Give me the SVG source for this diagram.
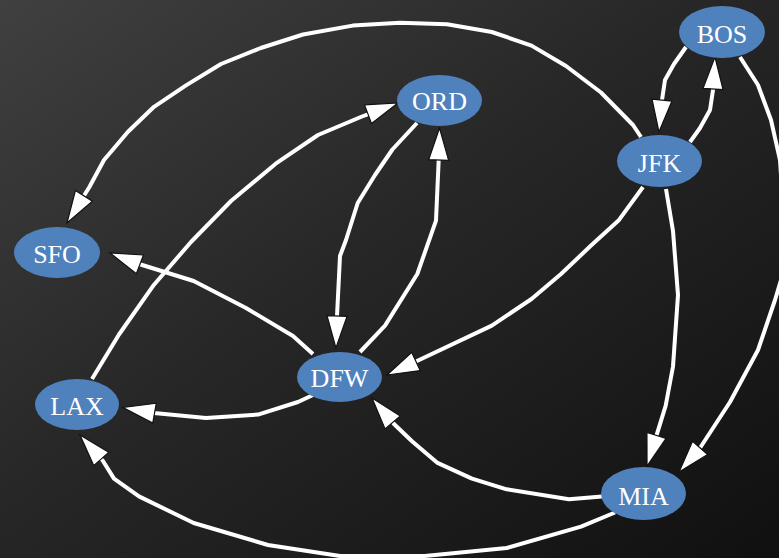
<svg xmlns="http://www.w3.org/2000/svg" width="779" height="558" viewBox="0 0 779 558">
  <defs>
    <linearGradient id="bg" x1="0" y1="0" x2="1" y2="1">
      <stop offset="0" stop-color="#404040"/>
      <stop offset="0.45" stop-color="#272727"/>
      <stop offset="1" stop-color="#101010"/>
    </linearGradient>
    <!-- tip sits 8px past the end of each path so the stroke stays under the head -->
    <marker id="arrow" markerUnits="userSpaceOnUse" markerWidth="36" markerHeight="24" refX="24" refY="10.5" orient="auto" overflow="visible">
      <path d="M0,0.5 L32,10.5 L0,20.5 Z" fill="#ffffff" stroke="#111111" stroke-width="1.2" stroke-linejoin="miter"/>
    </marker>
    <style>
      .edge { fill: none; stroke: #ffffff; stroke-width: 4; stroke-linejoin: round; marker-end: url(#arrow); }
      .node ellipse { fill: #4f81bd; }
      .node text { fill: #ffffff; font-family: "Liberation Serif", "Times New Roman", serif; font-size: 26px; text-anchor: middle; }
    </style>
  </defs>

  <rect x="0" y="0" width="779" height="558" fill="url(#bg)"/>

  <g id="edges">
    <!-- JFK -> SFO -->
    <polyline class="edge" points="641,137 633,125 601,92.5 566,66 531.5,45.6 491.8,32 447,24.2 400,22.8 352.7,25.6 303,34.5 260.8,48 221,64 186,85.4 154,106.8 128,131.7 104,160 89.4,187 71.2,216.2"/>
    <!-- BOS -> JFK -->
    <polyline class="edge" points="686,47 674,64 665,80 662,100 659.7,124"/>
    <!-- JFK -> BOS -->
    <polyline class="edge" points="690,142 700,128 710,110 713,90 714.5,65"/>
    <!-- BOS -> MIA -->
    <polyline class="edge" points="740,57 758,85 771,120 780,160 784,220 781,280 775,300 758,350 730,402 700,448 684.3,466"/>
    <!-- JFK -> MIA -->
    <polyline class="edge" points="666,189 673,231 678,295 673,366.5 665.7,405.7 649.4,458.4"/>
    <!-- JFK -> DFW -->
    <polyline class="edge" points="643,187 618.5,220.6 591,245.6 561,274 531.5,299 491.8,325.6 417,361 394.2,371.6"/>
    <!-- ORD -> DFW -->
    <polyline class="edge" points="417,123 392.4,149.5 375,175 357.7,203 346,240 340,256 337,316 336.2,340"/>
    <!-- DFW -> ORD -->
    <polyline class="edge" points="360,352 385,325.6 417.3,274 436,220.6 438.6,162 439.3,136"/>
    <!-- DFW -> SFO -->
    <polyline class="edge" points="313,354 293,336 246,308 193.7,281 139,264 117.5,255.8"/>
    <!-- LAX -> ORD -->
    <polyline class="edge" points="92,379 119,334.5 154,284.7 191,242 231,201 275.7,163.7 318,135 362,116.5 390.5,105.8"/>
    <!-- DFW -> LAX -->
    <polyline class="edge" points="313,395 298,402 258,414.6 206,418 154,413 130.9,408.9"/>
    <!-- MIA -> DFW -->
    <polyline class="edge" points="602,496.4 569,499.3 506.7,489.3 472,478.6 437,462.6 412,441.3 394,424 377.2,404.1"/>
    <!-- MIA -> LAX -->
    <polyline class="edge" points="615,512.5 581,526.7 506.7,548 424.7,556 340,556 268,545 193.7,523 139,496.4 114,478.6 103,461 85.3,441"/>
  </g>

  <g id="node-BOS" class="node">
    <ellipse cx="722" cy="32" rx="43" ry="26"/>
    <text x="722" y="43">BOS</text>
  </g>
  <g id="node-JFK" class="node">
    <ellipse cx="659.5" cy="161" rx="42.5" ry="26"/>
    <text x="659.5" y="172">JFK</text>
  </g>
  <g id="node-ORD" class="node">
    <ellipse cx="439.5" cy="100.5" rx="42.5" ry="25.5"/>
    <text x="439.5" y="110">ORD</text>
  </g>
  <g id="node-SFO" class="node">
    <ellipse cx="57" cy="252.5" rx="43" ry="25.5"/>
    <text x="57" y="263">SFO</text>
  </g>
  <g id="node-DFW" class="node">
    <ellipse cx="339.5" cy="377" rx="42.5" ry="25"/>
    <text x="339.5" y="387">DFW</text>
  </g>
  <g id="node-LAX" class="node">
    <ellipse cx="77" cy="404.5" rx="42" ry="25.5"/>
    <text x="77" y="415">LAX</text>
  </g>
  <g id="node-MIA" class="node">
    <ellipse cx="643.5" cy="493.5" rx="42.5" ry="26.5"/>
    <text x="643.5" y="505">MIA</text>
  </g>
</svg>
